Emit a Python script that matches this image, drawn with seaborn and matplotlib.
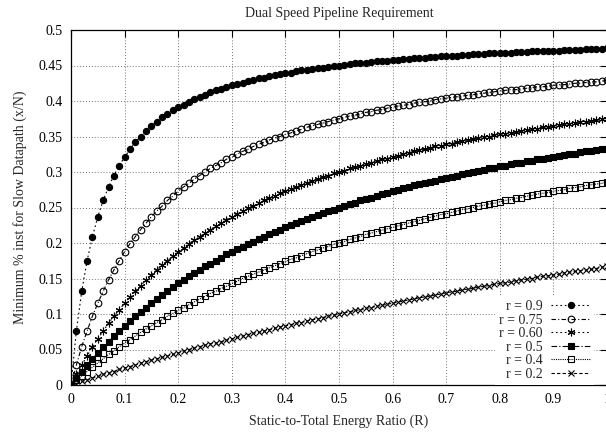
import numpy as np
import pandas as pd
import matplotlib
matplotlib.use("Agg")
import matplotlib.pyplot as plt
from matplotlib.ticker import FormatStrFormatter
import seaborn as sns

# Static-to-total energy ratio R, sampled every 0.01 from 0 to 1
ratio = np.linspace(0.0, 1.0, 101)

# Minimum fraction of instructions on the slow datapath (x/N) for each r
r_090 = [
    0.000, 0.076, 0.132, 0.175, 0.209, 0.237, 0.260, 0.279, 0.295, 0.309,
    0.321, 0.332, 0.342, 0.350, 0.358, 0.365, 0.371, 0.377, 0.382, 0.387,
    0.391, 0.395, 0.399, 0.403, 0.406, 0.409, 0.412, 0.415, 0.417, 0.420,
    0.422, 0.424, 0.426, 0.428, 0.430, 0.432, 0.433, 0.435, 0.436, 0.438,
    0.439, 0.440, 0.442, 0.443, 0.444, 0.445, 0.446, 0.447, 0.448, 0.449,
    0.450, 0.451, 0.452, 0.453, 0.453, 0.454, 0.455, 0.456, 0.456, 0.457,
    0.458, 0.458, 0.459, 0.459, 0.460, 0.461, 0.461, 0.462, 0.462, 0.463,
    0.463, 0.464, 0.464, 0.465, 0.465, 0.466, 0.466, 0.466, 0.467, 0.467,
    0.468, 0.468, 0.468, 0.469, 0.469, 0.469, 0.470, 0.470, 0.470, 0.471,
    0.471, 0.471, 0.472, 0.472, 0.472, 0.472, 0.473, 0.473, 0.473, 0.473,
    0.474,
]
r_075 = [
    0.000, 0.028, 0.054, 0.076, 0.097, 0.115, 0.132, 0.148, 0.162, 0.175,
    0.188, 0.199, 0.209, 0.219, 0.228, 0.237, 0.245, 0.252, 0.260, 0.266,
    0.273, 0.279, 0.284, 0.290, 0.295, 0.300, 0.305, 0.309, 0.313, 0.318,
    0.321, 0.325, 0.329, 0.332, 0.336, 0.339, 0.342, 0.345, 0.348, 0.350,
    0.353, 0.355, 0.358, 0.360, 0.363, 0.365, 0.367, 0.369, 0.371, 0.373,
    0.375, 0.377, 0.379, 0.380, 0.382, 0.384, 0.385, 0.387, 0.388, 0.390,
    0.391, 0.393, 0.394, 0.395, 0.397, 0.398, 0.399, 0.400, 0.402, 0.403,
    0.404, 0.405, 0.406, 0.407, 0.408, 0.409, 0.410, 0.411, 0.412, 0.413,
    0.414, 0.415, 0.416, 0.416, 0.417, 0.418, 0.419, 0.420, 0.420, 0.421,
    0.422, 0.423, 0.423, 0.424, 0.425, 0.425, 0.426, 0.427, 0.427, 0.428,
    0.429,
]
r_060 = [
    0.000, 0.015, 0.028, 0.041, 0.054, 0.065, 0.076, 0.087, 0.097, 0.106,
    0.115, 0.124, 0.132, 0.140, 0.148, 0.155, 0.162, 0.169, 0.175, 0.182,
    0.188, 0.193, 0.199, 0.204, 0.209, 0.214, 0.219, 0.224, 0.228, 0.233,
    0.237, 0.241, 0.245, 0.249, 0.252, 0.256, 0.260, 0.263, 0.266, 0.270,
    0.273, 0.276, 0.279, 0.282, 0.284, 0.287, 0.290, 0.293, 0.295, 0.298,
    0.300, 0.302, 0.305, 0.307, 0.309, 0.311, 0.313, 0.315, 0.318, 0.319,
    0.321, 0.323, 0.325, 0.327, 0.329, 0.331, 0.332, 0.334, 0.336, 0.337,
    0.339, 0.340, 0.342, 0.343, 0.345, 0.346, 0.348, 0.349, 0.350, 0.352,
    0.353, 0.354, 0.355, 0.357, 0.358, 0.359, 0.360, 0.361, 0.363, 0.364,
    0.365, 0.366, 0.367, 0.368, 0.369, 0.370, 0.371, 0.372, 0.373, 0.374,
    0.375,
]
r_050 = [
    0.000, 0.010, 0.019, 0.028, 0.037, 0.045, 0.054, 0.061, 0.069, 0.076,
    0.083, 0.090, 0.097, 0.103, 0.109, 0.115, 0.121, 0.127, 0.132, 0.138,
    0.143, 0.148, 0.153, 0.158, 0.162, 0.167, 0.171, 0.175, 0.179, 0.184,
    0.188, 0.191, 0.195, 0.199, 0.202, 0.206, 0.209, 0.213, 0.216, 0.219,
    0.222, 0.225, 0.228, 0.231, 0.234, 0.237, 0.240, 0.242, 0.245, 0.247,
    0.250, 0.252, 0.255, 0.257, 0.260, 0.262, 0.264, 0.266, 0.269, 0.271,
    0.273, 0.275, 0.277, 0.279, 0.281, 0.283, 0.284, 0.286, 0.288, 0.290,
    0.292, 0.293, 0.295, 0.297, 0.298, 0.300, 0.302, 0.303, 0.305, 0.306,
    0.308, 0.309, 0.311, 0.312, 0.313, 0.315, 0.316, 0.318, 0.319, 0.320,
    0.321, 0.323, 0.324, 0.325, 0.326, 0.328, 0.329, 0.330, 0.331, 0.332,
    0.333,
]
r_040 = [
    0.000, 0.007, 0.013, 0.019, 0.025, 0.031, 0.037, 0.043, 0.048, 0.054,
    0.059, 0.064, 0.069, 0.074, 0.079, 0.083, 0.088, 0.092, 0.097, 0.101,
    0.105, 0.109, 0.113, 0.117, 0.121, 0.125, 0.129, 0.132, 0.136, 0.139,
    0.143, 0.146, 0.150, 0.153, 0.156, 0.159, 0.162, 0.165, 0.168, 0.171,
    0.174, 0.177, 0.179, 0.182, 0.185, 0.188, 0.190, 0.193, 0.195, 0.198,
    0.200, 0.202, 0.205, 0.207, 0.209, 0.212, 0.214, 0.216, 0.218, 0.220,
    0.222, 0.224, 0.226, 0.228, 0.230, 0.232, 0.234, 0.236, 0.238, 0.240,
    0.241, 0.243, 0.245, 0.247, 0.248, 0.250, 0.252, 0.253, 0.255, 0.256,
    0.258, 0.260, 0.261, 0.263, 0.264, 0.266, 0.267, 0.269, 0.270, 0.271,
    0.273, 0.274, 0.275, 0.277, 0.278, 0.279, 0.281, 0.282, 0.283, 0.284,
    0.286,
]
r_020 = [
    0.000, 0.002, 0.005, 0.007, 0.010, 0.012, 0.015, 0.017, 0.019, 0.022,
    0.024, 0.026, 0.028, 0.031, 0.033, 0.035, 0.037, 0.039, 0.041, 0.043,
    0.045, 0.048, 0.050, 0.052, 0.054, 0.056, 0.058, 0.059, 0.061, 0.063,
    0.065, 0.067, 0.069, 0.071, 0.073, 0.074, 0.076, 0.078, 0.080, 0.082,
    0.083, 0.085, 0.087, 0.088, 0.090, 0.092, 0.093, 0.095, 0.097, 0.098,
    0.100, 0.102, 0.103, 0.105, 0.106, 0.108, 0.109, 0.111, 0.112, 0.114,
    0.115, 0.117, 0.118, 0.120, 0.121, 0.123, 0.124, 0.125, 0.127, 0.128,
    0.130, 0.131, 0.132, 0.134, 0.135, 0.136, 0.138, 0.139, 0.140, 0.142,
    0.143, 0.144, 0.145, 0.147, 0.148, 0.149, 0.150, 0.152, 0.153, 0.154,
    0.155, 0.156, 0.158, 0.159, 0.160, 0.161, 0.162, 0.163, 0.164, 0.166,
    0.167,
]

series_labels = ["r = 0.9", "r = 0.75", "r = 0.60", "r = 0.5", "r = 0.4", "r = 0.2"]
series_values = [r_090, r_075, r_060, r_050, r_040, r_020]

x_ticks = [0, 0.1, 0.2, 0.3, 0.4, 0.5, 0.6, 0.7, 0.8, 0.9, 1.0]
y_ticks = [0, 0.05, 0.1, 0.15, 0.2, 0.25, 0.3, 0.35, 0.4, 0.45, 0.5]

# gnuplot-like line/marker styles, one per curve
styles = [
    dict(marker="o", ms=4.5, mfc="black", ls=(0, (1.5, 2.5))),
    dict(marker="o", ms=4.8, mfc="none", ls=(0, (4, 2, 1, 2))),
    dict(marker=(6, 2, 0), ms=5.5, mfc="none", ls=(0, (1.5, 2.5))),
    dict(marker="s", ms=4.9, mfc="black", ls=(0, (5, 2, 1, 2))),
    dict(marker="s", ms=4.9, mfc="none", ls=(0, (1, 1))),
    dict(marker="x", ms=4.2, mfc="none", ls=(0, (3, 2))),
]

sns.set_theme(style="white")
plt.rcParams["font.family"] = ["Liberation Serif", "DejaVu Serif"]

fig = plt.figure(figsize=(6.06, 4.32), dpi=100)
ax = fig.add_axes([71 / 606, 47 / 432, 536 / 606, 355 / 432])

long_df = pd.DataFrame({
    "R": np.tile(ratio, len(series_labels)),
    "x": np.concatenate([np.asarray(v) for v in series_values]),
    "series": np.repeat(series_labels, len(ratio)),
})

for label, st in zip(series_labels, styles):
    sub = long_df[long_df["series"] == label]
    sns.lineplot(
        data=sub, x="R", y="x", ax=ax, label=label,
        color="black", linewidth=0.8, linestyle=st["ls"],
        marker=st["marker"], markersize=st["ms"],
        markerfacecolor=st["mfc"], markeredgecolor="black",
        markeredgewidth=0.8, sort=False, estimator=None,
    )

ax.set_xlim(0, 1)
ax.set_ylim(0, 0.5)
ax.set_xticks(x_ticks)
ax.set_yticks(y_ticks)
ax.xaxis.set_major_formatter(FormatStrFormatter("%g"))
ax.yaxis.set_major_formatter(FormatStrFormatter("%g"))
ax.tick_params(direction="in", length=5, width=0.8, colors="black",
               labelsize=10, top=True, right=True, pad=6,
               labeltop=False, labelright=False)
ax.grid(True, color="#444444", linestyle=(0, (1, 2.5)), linewidth=0.6)
ax.set_axisbelow(True)
for sp in ax.spines.values():
    sp.set_color("black")
    sp.set_linewidth(0.9)

ax.set_xlabel("Static-to-Total Energy Ratio (R)", fontsize=10, labelpad=6)
ax.set_ylabel("Minimum % inst for Slow Datapath (x/N)", fontsize=10, labelpad=8)
ax.set_title("Dual Speed Pipeline Requirement", fontsize=10, pad=9)

leg = ax.legend(
    loc="lower right", bbox_to_anchor=(0.976, 0.0), markerfirst=False,
    frameon=True, fancybox=False, framealpha=1.0, facecolor="white",
    edgecolor="none", fontsize=10, handlelength=2.8, handletextpad=0.6,
    labelspacing=0.04, borderpad=0.3, borderaxespad=0.0,
)
for t in leg.get_texts():
    t.set_ha("right")

fig.savefig("out.png", dpi=100)
